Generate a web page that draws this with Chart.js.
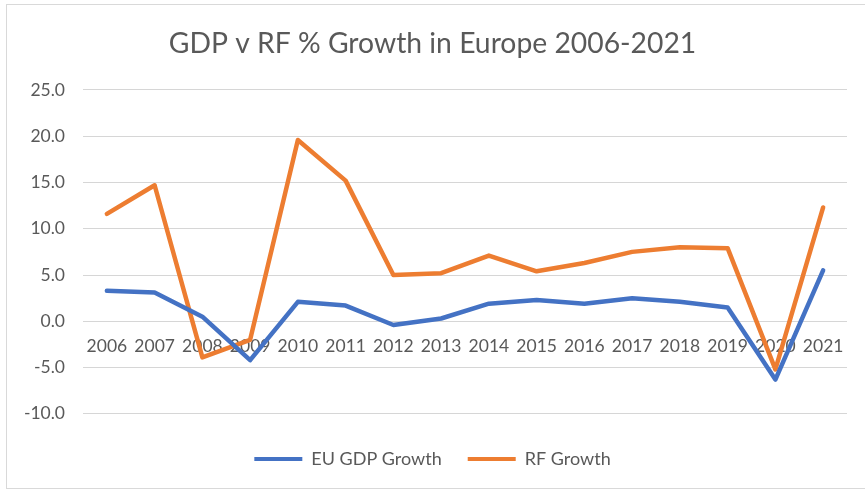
<!DOCTYPE html>
<html>
<head>
<meta charset="utf-8">
<script src="https://cdn.jsdelivr.net/npm/chart.js@4/dist/chart.umd.min.js"></script>
<style>
  html, body { margin: 0; padding: 0; background: #ffffff; }
  body { width: 865px; height: 489px; position: relative; overflow: hidden; }
  #frame { position: absolute; left: 6px; top: 4px; width: 900px; height: 483px;
           border: 1px solid #D9D9D9; box-sizing: content-box; }
  #wrap { position: absolute; left: 0; top: 0; width: 865px; height: 489px; }
</style>
</head>
<body>
<div id="frame"></div>
<div id="wrap"><canvas id="c" width="865" height="489"></canvas></div>
<script>
const years = ['2006','2007','2008','2009','2010','2011','2012','2013','2014','2015','2016','2017','2018','2019','2020','2021'];
const euGdpGrowth = [3.3, 3.1, 0.5, -4.2, 2.1, 1.7, -0.4, 0.3, 1.9, 2.3, 1.9, 2.5, 2.1, 1.5, -6.3, 5.5];
const rfGrowth = [11.6, 14.7, -3.9, -2.0, 19.6, 15.2, 5.0, 5.2, 7.1, 5.4, 6.3, 7.5, 8.0, 7.9, -5.2, 12.3];
const seriesNames = ['EU GDP Growth', 'RF Growth'];
const titleText = 'GDP v RF % Growth in Europe 2006-2021';

const FONT = 'Lato, Carlito, Calibri, sans-serif';
const TEXT = '#595959';

new Chart(document.getElementById('c'), {
  type: 'line',
  data: {
    labels: years,
    datasets: [
      { label: seriesNames[0], data: euGdpGrowth, borderColor: '#4472C4', backgroundColor: '#4472C4',
        borderWidth: 4.5, pointRadius: 0, tension: 0, borderJoinStyle: 'round', borderCapStyle: 'round' },
      { label: seriesNames[1], data: rfGrowth, borderColor: '#ED7D31', backgroundColor: '#ED7D31',
        borderWidth: 4.5, pointRadius: 0, tension: 0, borderJoinStyle: 'round', borderCapStyle: 'round' }
    ]
  },
  options: {
    responsive: false,
    animation: false,
    layout: { padding: { left: 0, right: 0, top: 0, bottom: 11 } },
    plugins: {
      tooltip: { enabled: false },
      title: {
        display: true, text: titleText, color: TEXT,
        font: { family: FONT, size: 28.3, weight: 'normal' },
        padding: { top: 27, bottom: 29 }
      },
      legend: {
        position: 'bottom',
        title: { display: true, text: ' ', font: { size: 1 }, padding: { top: 0, bottom: 9 } },
        labels: {
          color: TEXT,
          font: { family: FONT, size: 18 },
          boxWidth: 48, boxHeight: 4, padding: 26,
          generateLabels(chart) {
            return chart.data.datasets.map((ds, i) => ({
              text: ds.label, fillStyle: ds.borderColor, strokeStyle: ds.borderColor,
              lineWidth: 0, hidden: false, datasetIndex: i, fontColor: TEXT
            }));
          }
        }
      }
    },
    scales: {
      x: {
        type: 'category',
        offset: true,
        position: { y: 0 },
        grid: { display: false, drawTicks: false },
        border: { display: false },
        ticks: { color: TEXT, font: { family: FONT, size: 17.5 }, padding: 15, maxRotation: 0, autoSkip: false },
        afterFit(scale) { scale.height = 0; }
      },
      y: {
        min: -10, max: 25,
        grid: { color: '#D6D6D6', lineWidth: 1, drawTicks: false },
        border: { display: false },
        ticks: { stepSize: 5, color: TEXT, font: { family: FONT, size: 17.5 }, padding: 18,
                 callback: v => Number(v).toFixed(1) },
        afterFit(scale) { scale.width = 83; }
      },
      ySpacer: {
        type: 'linear', position: 'right', min: 0, max: 1,
        grid: { display: false, drawTicks: false },
        border: { display: false },
        ticks: { display: false },
        afterFit(scale) { scale.width = 18; }
      }
    }
  }
});
</script>
</body>
</html>
